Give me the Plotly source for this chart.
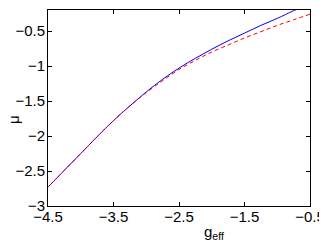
import plotly.graph_objects as go

# ── datos ─────────────────────────────────────────────────────────────────────
g_eff = [-4.5, -4.25, -4.0, -3.75, -3.5, -3.25, -3.0, -2.75, -2.5, -2.25,
         -2.0, -1.75, -1.5, -1.25, -1.0, -0.75, -0.6]
mu_blue = [-2.73, -2.49, -2.25, -2.01, -1.78, -1.57, -1.37, -1.19, -1.03, -0.89,
           -0.76, -0.64, -0.53, -0.42, -0.32, -0.21, -0.15]

g_red = [-4.5, -4.25, -4.0, -3.75, -3.5, -3.25, -3.0, -2.75, -2.5, -2.25,
         -2.0, -1.75, -1.5, -1.25, -1.0, -0.75, -0.5]
mu_red = [-2.73, -2.49, -2.25, -2.01, -1.78, -1.57, -1.38, -1.21, -1.05, -0.92,
          -0.80, -0.70, -0.60, -0.51, -0.42, -0.34, -0.26]

x_ticks = [-4.5, -3.5, -2.5, -1.5, -0.5]
y_ticks = [-3, -2.5, -2, -1.5, -1, -0.5]

FONT = "Liberation Sans"
BODY = 8  # margen por defecto del <body> en la página


def etiquetas(vals):
    return [f"{v:g}".replace("-", "\u2212") for v in vals]


fig = go.Figure()
fig.add_trace(go.Scatter(x=g_eff, y=mu_blue, mode="lines",
                         line=dict(color="#0000ff", width=1, shape="spline")))
fig.add_trace(go.Scatter(x=g_red, y=mu_red, mode="lines",
                         line=dict(color="#ff0000", width=1, dash="4px,3px", shape="spline")))

axis_style = dict(showline=True, linecolor="black", linewidth=1, mirror="ticks",
                  ticks="inside", ticklen=4, tickcolor="black", showgrid=False,
                  zeroline=False, automargin=False,
                  tickfont=dict(family=FONT, size=15, color="black"))

fig.update_layout(
    width=327 - BODY, height=245 - BODY,
    margin=dict(l=48 - BODY, r=17, t=10 - BODY, b=39),
    paper_bgcolor="white", plot_bgcolor="white",
    showlegend=False,
    xaxis=dict(range=[-4.5, -0.5], tickvals=x_ticks, ticktext=etiquetas(x_ticks),
               ticklabelstandoff=-3, **axis_style),
    yaxis=dict(range=[-3, -0.2], tickvals=y_ticks, ticktext=etiquetas(y_ticks),
               ticklabelstandoff=-1, **axis_style),
)

# etiquetas de ejes (posición como en la figura original)
fig.add_annotation(text="g<sub>eff</sub>", xref="paper", yref="paper",
                   x=0.634, y=-0.075, xanchor="center", yanchor="top", showarrow=False,
                   font=dict(family=FONT, size=15, color="black"))
fig.add_annotation(text="μ", xref="paper", yref="paper", textangle=-90,
                   x=-0.13, y=0.444, xanchor="center", yanchor="middle", showarrow=False,
                   font=dict(family=FONT, size=15, color="black"))

fig.write_html("out.html")
